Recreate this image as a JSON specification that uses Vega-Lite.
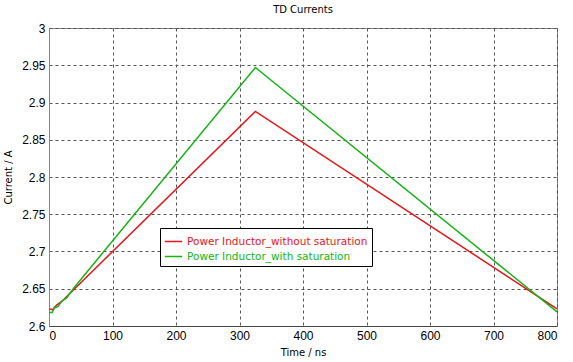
{
  "$schema": "https://vega.github.io/schema/vega-lite/v6.json",
  "width": 508,
  "height": 298,
  "autosize": {"type": "none"},
  "padding": {"left": 49, "top": 28, "right": 16, "bottom": 36},
  "background": "white",
  "title": {"text": "TD Currents", "font": "DejaVu Sans", "fontSize": 10, "fontWeight": "normal", "color": "#000", "offset": 7, "anchor": "middle"},
  "config": {
    "view": {"stroke": "#888", "strokeWidth": 1},
    "axis": {"labelFont": "Liberation Sans", "labelFontSize": 12, "labelColor": "#000", "titleFont": "DejaVu Sans", "titleFontSize": 10, "titleFontWeight": "normal", "titleColor": "#000", "gridColor": "#555", "gridDash": [3, 3], "gridOpacity": 1, "tickSize": 0, "labelPadding": 4}
  },
  "data": {"values": [
    {"t": 0, "v": 2.623, "s": "Power Inductor_without saturation"},
    {"t": 6, "v": 2.622, "s": "Power Inductor_without saturation"},
    {"t": 12, "v": 2.628, "s": "Power Inductor_without saturation"},
    {"t": 20, "v": 2.633, "s": "Power Inductor_without saturation"},
    {"t": 325, "v": 2.888, "s": "Power Inductor_without saturation"},
    {"t": 800, "v": 2.623, "s": "Power Inductor_without saturation"},
    {"t": 0, "v": 2.618, "s": "Power Inductor_with saturation"},
    {"t": 5, "v": 2.618, "s": "Power Inductor_with saturation"},
    {"t": 8, "v": 2.624, "s": "Power Inductor_with saturation"},
    {"t": 14, "v": 2.626, "s": "Power Inductor_with saturation"},
    {"t": 20, "v": 2.633, "s": "Power Inductor_with saturation"},
    {"t": 28, "v": 2.638, "s": "Power Inductor_with saturation"},
    {"t": 40, "v": 2.652, "s": "Power Inductor_with saturation"},
    {"t": 325, "v": 2.947, "s": "Power Inductor_with saturation"},
    {"t": 800, "v": 2.619, "s": "Power Inductor_with saturation"}
  ]},
  "mark": {"type": "line", "strokeWidth": 1.5, "interpolate": "linear"},
  "encoding": {
    "x": {"field": "t", "type": "quantitative", "scale": {"domain": [0, 800], "nice": false}, "axis": {"title": "Time / ns", "values": [0,100,200,300,400,500,600,700,800], "domainColor": "#444", "titlePadding": 6}},
    "y": {"field": "v", "type": "quantitative", "scale": {"domain": [2.6, 3], "nice": false, "zero": false}, "axis": {"title": "Current / A", "format": "~g", "values": [2.6,2.65,2.7,2.75,2.8,2.85,2.9,2.95,3], "domainColor": "#888", "titlePadding": 8}},
    "color": {"field": "s", "type": "nominal", "sort": ["Power Inductor_without saturation", "Power Inductor_with saturation"], "scale": {"domain": ["Power Inductor_without saturation", "Power Inductor_with saturation"], "range": ["#e8141a", "#14b414"]},
      "legend": {"title": null, "orient": "none", "legendX": 111, "legendY": 200, "strokeColor": "#000", "fillColor": "white", "padding": 4, "symbolType": "stroke", "symbolSize": 300, "symbolStrokeWidth": 1.5, "labelFont": "DejaVu Sans", "labelFontSize": 10.5, "rowPadding": 0, "labelLimit": 300, "labelOffset": 4,
        "encode": {"labels": {"update": {"fill": {"scale": "color", "field": "value"}}}}}
    }
  }
}
